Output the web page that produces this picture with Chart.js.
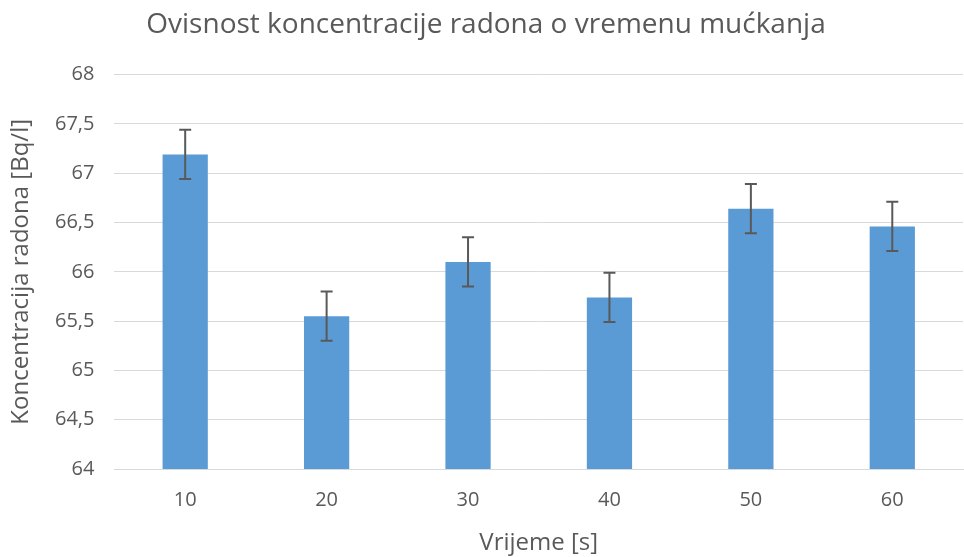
<!DOCTYPE html>
<html><head><meta charset="utf-8">
<script src="https://cdn.jsdelivr.net/npm/chart.js@4/dist/chart.umd.min.js"></script>
<style>html,body{margin:0;padding:0;background:#fff}#wrap{width:964px;height:557px}</style>
</head><body><div id="wrap"><canvas id="c" width="964" height="557"></canvas></div>
<script>
const categories = ["10", "20", "30", "40", "50", "60"];
const concentration = [67.19, 65.55, 66.10, 65.74, 66.64, 66.46];
const errors = [0.25, 0.25, 0.25, 0.25, 0.25, 0.25];
const yTicks = [64, 64.5, 65, 65.5, 66, 66.5, 67, 67.5, 68];

const FONT = "'Open Sans', sans-serif";
const errorBars = {
  id: 'errorBars',
  afterDatasetsDraw(chart) {
    const ctx = chart.ctx, meta = chart.getDatasetMeta(0), y = chart.scales.y;
    ctx.save();
    ctx.strokeStyle = '#595959'; ctx.lineWidth = 2;
    meta.data.forEach((bar, i) => {
      const v = concentration[i], e = errors[i];
      const top = y.getPixelForValue(v + e), bot = y.getPixelForValue(v - e);
      const x = bar.x, cap = 6;
      ctx.beginPath();
      ctx.moveTo(x, top); ctx.lineTo(x, bot);
      ctx.moveTo(x - cap, top); ctx.lineTo(x + cap, top);
      ctx.moveTo(x - cap, bot); ctx.lineTo(x + cap, bot);
      ctx.stroke();
    });
    ctx.restore();
  }
};

new Chart(document.getElementById('c'), {
  type: 'bar',
  data: { labels: categories, datasets: [{ data: concentration, backgroundColor: '#5B9BD5', categoryPercentage: 1, barPercentage: 0.32 }] },
  options: {
    responsive: false, animation: false,
    layout: { padding: { left: 9, right: 1, top: 8, bottom: 2 } },
    plugins: {
      legend: { display: false }, tooltip: { enabled: false },
      title: { display: true, text: 'Ovisnost koncentracije radona o vremenu mućkanja', color: '#595959',
        font: { family: FONT, size: 28, weight: 'normal' }, padding: { top: 0, bottom: 33 } }
    },
    scales: {
      x: {
        grid: { display: false, drawTicks: false },
        border: { color: '#d9d9d9', width: 1 },
        ticks: { color: '#595959', font: { family: FONT, size: 20 }, padding: 19 },
        title: { display: true, text: 'Vrijeme [s]', color: '#595959', font: { family: FONT, size: 24, lineHeight: 1.0 }, padding: { top: 0, bottom: 0 } }
      },
      y: {
        min: 64, max: 68,
        afterBuildTicks(s) { s.ticks = yTicks.map(v => ({ value: v })); },
        grid: { color: '#d9d9d9', lineWidth: 1, drawTicks: false },
        border: { display: false },
        ticks: { color: '#595959', font: { family: FONT, size: 20 }, padding: 20,
          callback: v => String(v).replace('.', ',') },
        title: { display: true, text: 'Koncentracija radona [Bq/l]', color: '#595959', font: { family: FONT, size: 24, lineHeight: 1.0 }, padding: { top: 0, bottom: 2 } }
      }
    }
  },
  plugins: [errorBars]
});
</script></body></html>
